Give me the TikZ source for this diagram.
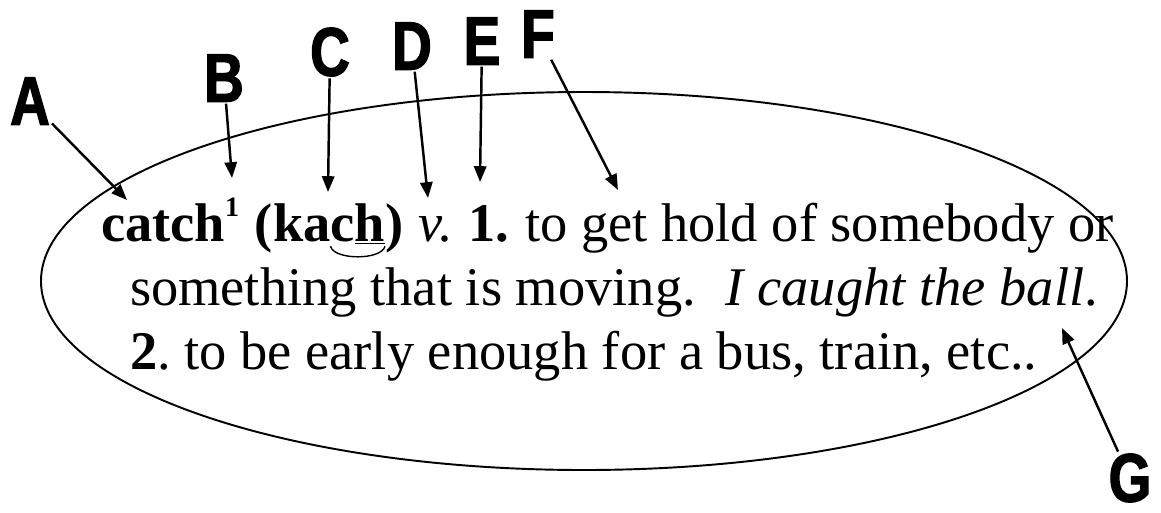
\documentclass[tikz,border=0pt]{standalone}
\usepackage{fontspec}
\setmainfont{Liberation Serif}
\newfontfamily\calloutfont{Liberation Sans}[FakeStretch=0.8, FakeBold=2]
\usetikzlibrary{arrows.meta,positioning}

\begin{document}
\begin{tikzpicture}[x=0.02cm, y=-0.02cm, node distance=9pt,
    entry/.style={inner sep=0pt, outer sep=0pt, font=\fontsize{31}{38}\selectfont},
    callout/.style={inner sep=1pt, font=\calloutfont\bfseries\fontsize{39}{39}\selectfont},
    pointer/.style={line width=1.4pt, -{Triangle[length=9pt,width=7pt]}},
    outline/.style={line width=1.1pt}]
    \useasboundingbox (0,0) rectangle (1161,512);

    % Oval round the entry
    \draw[outline] (584,281) ellipse [x radius=543, y radius=189];

    % Entry, line 1
    \node[entry, anchor=base west] (headword) at (101,241) {\bfseries catch\raisebox{0.45em}{\fontsize{16}{16}\selectfont 1}};
    \node[entry, base right=of headword] (pron-open) {\bfseries (ka};
    \node[entry, base right=0pt of pron-open] (pron-ch) {\bfseries c\underline{h}};
    \node[entry, base right=0pt of pron-ch] (pron-close) {\bfseries )};
    \node[entry, base right=of pron-close] (pos) {\itshape v.};
    \node[entry, base right=of pos] (sense1) {\bfseries 1.};
    \node[entry, base right=of sense1] (def1) {to get hold of somebody or};
    \draw[line width=0.8pt] ([yshift=-3pt]pron-ch.base west)
        .. controls +(2pt,-8pt) and +(-2pt,-8pt) .. ([yshift=-3pt]pron-ch.base east);

    % Entry, lines 2 and 3
    \node[entry, anchor=base west] (line2) at (130,305) {something that is moving.\hspace{0.55em}{\itshape I caught the ball}.};
    \node[entry, anchor=base west] (line3) at (130,369) {{\bfseries 2}.\ to be early enough for a bus, train, etc..};

    % Callout letters
    \node[callout] (A) at (30,101) {A};
    \node[callout] (B) at (224,78) {B};
    \node[callout] (C) at (330,52) {C};
    \node[callout] (D) at (412,46) {D};
    \node[callout] (E) at (482,41) {E};
    \node[callout] (F) at (538,34) {F};
    \node[callout] (G) at (1130,478) {G};

    \coordinate (tipA) at (127,200);
    \coordinate (tipB) at (232,178);
    \coordinate (tipC) at (328,192);
    \coordinate (tipD) at (428,198);
    \coordinate (tipE) at (480,182);
    \coordinate (tipF) at (618,190);
    \coordinate (tipG) at (1062,328);

    \draw[pointer] (A) -- (tipA);
    \draw[pointer] (B) -- (tipB);
    \draw[pointer] (C) -- (tipC);
    \draw[pointer] (D) -- (tipD);
    \draw[pointer] (E) -- (tipE);
    \draw[pointer] (F) -- (tipF);
    \draw[pointer] (G) -- (tipG);
\end{tikzpicture}
\end{document}
